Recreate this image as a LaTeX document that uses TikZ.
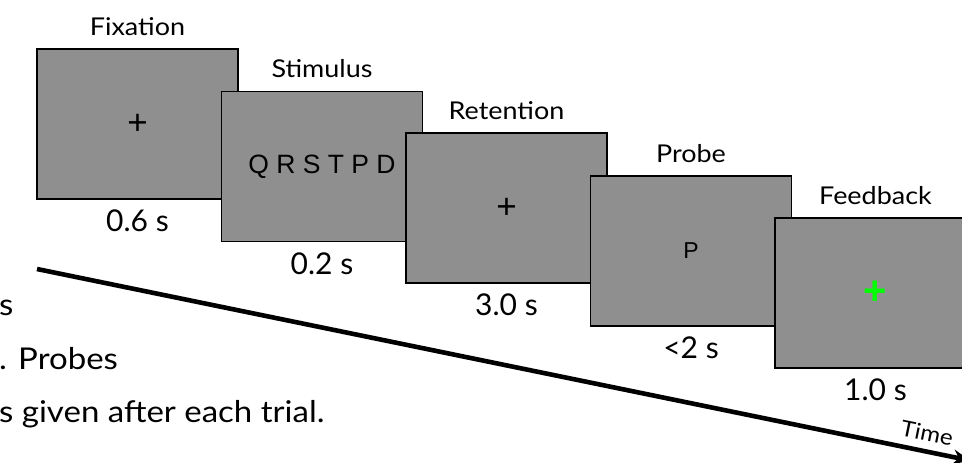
\documentclass[tikz,border=0pt]{standalone}
\usepackage{fontspec}
\setmainfont{Lato}
\newfontfamily\wordfont[FakeStretch=1.1]{Lato}
\newfontfamily\screenfont{Liberation Sans}
\usepackage{tikz}
\usetikzlibrary{positioning,arrows.meta}
\definecolor{screengray}{RGB}{143,143,143}
\definecolor{okgreen}{RGB}{0,255,0}
\tikzset{screen/.style={draw=black,line width=1.6pt,fill=screengray,
    minimum width=201pt,minimum height=150pt,inner sep=0pt,
    font=\screenfont\fontsize{26.5}{26.5}\selectfont}}
\tikzset{phase/.style={inner sep=0pt,font=\wordfont\fontsize{24.5}{28}\selectfont}}
\tikzset{dur/.style={inner sep=0pt,font=\fontsize{30}{34}\selectfont}}
\tikzset{caption/.style={inner sep=0pt,font=\wordfont\fontsize{30}{34}\selectfont}}
\tikzset{timeline/.style={line width=4.6pt,-{Stealth[length=17pt,width=15pt]}}}

\begin{document}
\begin{tikzpicture}[x=1pt,y=-1pt]
        \useasboundingbox (0,0) rectangle (962,463);
        \clip (0,0) rectangle (962,463);
        % Caption lines running in from the left
        \node[caption,anchor=base west] (capA) at (-1,315) {s};
        \node[caption,anchor=base west] (capB) at (-1,369) {. Probes};
        \node[caption,anchor=base west] (capC) at (-1,422) {s given after each trial.};
        % Time axis
        \coordinate (t0) at (37,269);
        \coordinate (t1) at (970,460.5);
        \draw[timeline] (t0) -- (t1)
        node[pos=0.95,sloped,above=8pt,inner sep=0pt,
        font=\wordfont\fontsize{22}{24}\selectfont] (timelbl) {Time};
        % Screens, each one shifted down and right
        \node[screen] (fix) at (137.5,124) {\fontsize{35}{35}\selectfont +};
        \node[screen] (stim) at (322,166.5) {Q R S T P D};
        \node[screen] (ret) at (506.5,208) {\fontsize{35}{35}\selectfont +};
        \node[screen] (probe) at (691,251) {\fontsize{23}{23}\selectfont P};
        \node[screen] (fb) at (875.5,293)
        {\fontsize{40}{40}\selectfont\bfseries\color{okgreen}+};
        % Phase names above the screens
        \node[phase,above=13pt of fix.north,anchor=base] (fixT) {Fixation};
        \node[phase,above=13pt of stim.north,anchor=base] (stimT) {Stimulus};
        \node[phase,above=13pt of ret.north,anchor=base] (retT) {Retention};
        \node[phase,above=13pt of probe.north,anchor=base] (probeT) {Probe};
        \node[phase,above=13pt of fb.north,anchor=base] (fbT) {Feedback};
        % Durations below the screens
        \node[dur,below=32pt of fix.south,anchor=base] (fixD) {0.6 s};
        \node[dur,below=32pt of stim.south,anchor=base] (stimD) {0.2 s};
        \node[dur,below=32pt of ret.south,anchor=base] (retD) {3.0 s};
        \node[dur,below=32pt of probe.south,anchor=base] (probeD) {<2 s};
        \node[dur,below=32pt of fb.south,anchor=base] (fbD) {1.0 s};
\end{tikzpicture}
\end{document}
